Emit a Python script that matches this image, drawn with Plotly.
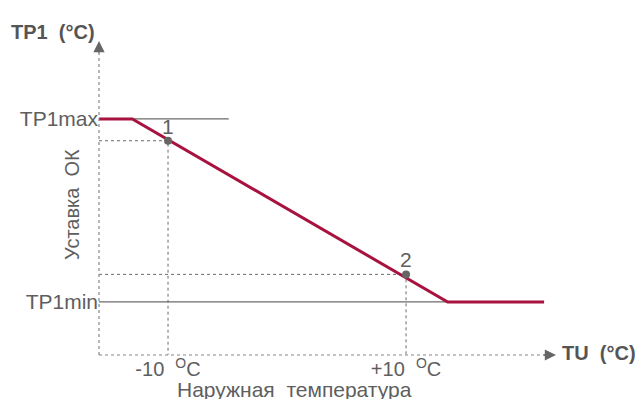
import plotly.graph_objects as go

# setpoint curve (outdoor temp in °C, setpoint in relative units)
curve_tu = [-15.8, -13.0, 13.5, 21.6]
curve_tp1 = [44.5, 44.5, 10.0, 10.0]

tp1_max = 44.5
tp1_min = 10.0
max_line_tu = [-13.0, -4.9]
min_line_tu = [-15.8, 13.5]

point_tu = [-10, 10]
point_tp1 = [40.4, 15.2]
point_names = ["1", "2"]

x_ticks = [-10, 10]
x_tick_text = ["-10  <sup>O</sup>C", "+10  <sup>O</sup>C"]
y_ticks = [tp1_max, tp1_min]
y_tick_text = ["TP1max", "TP1min"]

RED = "#a8123e"
GRAY = "#6b6b6b"
TXT = "#5e5e5e"
FONT = "Liberation Sans, Arial, sans-serif"

fig = go.Figure()

# guide lines for TP1max / TP1min
fig.add_trace(go.Scatter(x=max_line_tu, y=[tp1_max] * 2, mode="lines",
                         line=dict(color=GRAY, width=1.3), hoverinfo="skip"))
fig.add_trace(go.Scatter(x=min_line_tu, y=[tp1_min] * 2, mode="lines",
                         line=dict(color=GRAY, width=1.3), hoverinfo="skip"))

# dotted projections of the two points
for tu, tp in zip(point_tu, point_tp1):
    fig.add_trace(go.Scatter(x=[curve_tu[0], tu, tu], y=[tp, tp, 0], mode="lines",
                             line=dict(color=GRAY, width=1, dash="dot"), hoverinfo="skip"))

fig.add_trace(go.Scatter(x=curve_tu, y=curve_tp1, mode="lines",
                         line=dict(color=RED, width=3)))

fig.add_trace(go.Scatter(x=point_tu, y=point_tp1, mode="markers",
                         marker=dict(size=8, color="#666666")))

xr = [-15.8, 22.6]
yr = [0, 59.2]

# dotted axes
fig.add_shape(type="line", xref="paper", yref="paper", x0=0, y0=0, x1=0.985, y1=0,
              line=dict(color="#888888", width=1.2, dash="dot"))
fig.add_shape(type="line", xref="paper", yref="paper", x0=0, y0=0, x1=0, y1=0.96,
              line=dict(color="#888888", width=1.2, dash="dot"))

annots = [
    # arrowheads
    dict(x=1, y=0, xref="paper", yref="paper", ax=-14, ay=0, text="", showarrow=True,
         arrowhead=2, arrowsize=1.6, arrowwidth=1.4, arrowcolor="#666666"),
    dict(x=0, y=1, xref="paper", yref="paper", ax=0, ay=14, text="", showarrow=True,
         arrowhead=2, arrowsize=1.6, arrowwidth=1.4, arrowcolor="#666666"),
    dict(x=-0.004, y=1, xref="paper", yref="paper", xanchor="right", yanchor="bottom",
         yshift=-4, text="<b>TP1  (°C)</b>", showarrow=False,
         font=dict(size=20, color="#555555", family=FONT)),
    dict(x=1.008, y=0, xref="paper", yref="paper", xanchor="left", yanchor="middle",
         yshift=2, text="<b>TU  (°C)</b>", showarrow=False,
         font=dict(size=20, color="#555555", family=FONT)),
    dict(x=-0.059, y=0.478, xref="paper", yref="paper", xanchor="center", yanchor="middle",
         textangle=-90, text="Уставка  ОК", showarrow=False,
         font=dict(size=20, color=TXT, family=FONT)),
    dict(x=0.427, y=-0.11, xref="paper", yref="paper", xanchor="center", yanchor="middle",
         text="Наружная  температура", showarrow=False,
         font=dict(size=21, color=TXT, family=FONT)),
]

# point numbers above the markers
for tu, tp, name in zip(point_tu, point_tp1, point_names):
    annots.append(dict(x=tu, y=tp, xref="x", yref="y", yanchor="bottom", yshift=1,
                       text=name, showarrow=False,
                       font=dict(size=21, color=TXT, family=FONT)))

fig.update_layout(
    width=638, height=399,
    margin=dict(l=99, r=82, t=41, b=44),
    paper_bgcolor="white", plot_bgcolor="white",
    showlegend=False,
    annotations=annots,
    xaxis=dict(range=xr, showgrid=False, zeroline=False, showline=False,
               tickvals=x_ticks, ticktext=x_tick_text, ticks="", automargin=False,
               tickfont=dict(size=20, color=TXT, family=FONT)),
    yaxis=dict(range=yr, showgrid=False, zeroline=False, showline=False,
               tickvals=y_ticks, ticktext=y_tick_text, ticks="", automargin=False,
               tickfont=dict(size=21, color=TXT, family=FONT)),
)

fig.write_html("out.html", config={"displayModeBar": False},
               post_script="document.body.style.margin='0';")
